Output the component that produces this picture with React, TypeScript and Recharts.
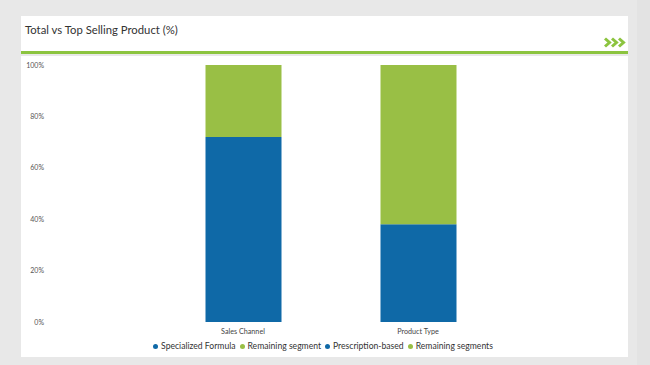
import React from 'react';
import { BarChart, Bar, XAxis, YAxis, Legend } from 'recharts';

const categories = ['Sales Channel', 'Product Type'];
const specializedFormula = [72, 0];
const remainingSegment = [28, 0];
const prescriptionBased = [0, 38];
const remainingSegments = [0, 62];
const yTicks = [0, 20, 40, 60, 80, 100];

const seriesNames = ['Specialized Formula', 'Remaining segment', 'Prescription-based', 'Remaining segments'];
const BLUE = '#0f69a7';
const GREEN = '#99bf45';
const seriesColors = [BLUE, GREEN, BLUE, GREEN];

const data = categories.map((c, i) => ({
  name: c,
  s0: specializedFormula[i],
  s1: remainingSegment[i],
  s2: prescriptionBased[i],
  s3: remainingSegments[i],
}));

const FONT = 'Lato, "Open Sans", sans-serif';

const YTick = (props: any) => {
  const { y, payload } = props;
  return (
    <text x={44} y={y} dy={2.5} textAnchor="end" fontSize={7} fill="#555" fontFamily={FONT}>
      {payload.value + '%'}
    </text>
  );
};

const LegendContent = () => {
  return (
    <div style={{ display: 'flex', justifyContent: 'center', alignItems: 'center', height: 12, fontFamily: FONT, fontSize: 8.6, color: '#333' }}>
      {seriesNames.map((n, i) => (
        <span key={n} style={{ display: 'inline-flex', alignItems: 'center', marginRight: 4 }}>
          <span style={{ width: 5, height: 5, borderRadius: '50%', background: seriesColors[i], display: 'inline-block', marginRight: 3 }} />
          {n}
        </span>
      ))}
    </div>
  );
};

export default function App() {
  return (
    <div style={{ position: 'absolute', left: 0, top: 0, width: 650, height: 365, background: '#e8e8e8', overflow: 'hidden' }}>
      <div style={{ position: 'absolute', left: 637, top: 0, width: 13, height: 365, background: '#e3e3e3' }} />
      <div style={{ position: 'absolute', left: 21, top: 16, width: 607, height: 35, background: '#fff' }} />
      <div style={{ position: 'absolute', left: 21, top: 51, width: 607, height: 2.5, background: '#8cc43f' }} />
      <div style={{ position: 'absolute', left: 21, top: 56, width: 607, height: 301, background: '#fff' }} />
      <div style={{ position: 'absolute', left: 25, top: 23, fontFamily: FONT, fontSize: 11.3, color: '#333', whiteSpace: 'nowrap' }}>
        Total vs Top Selling Product (%)
      </div>
      <svg style={{ position: 'absolute', left: 604, top: 37 }} width={24} height={11}>
        {[0, 7, 14].map((dx) => (
          <polyline
            key={dx}
            points={`${1 + dx},1.5 ${5.5 + dx},5.5 ${1 + dx},9.5`}
            fill="none"
            stroke="#8cc43f"
            strokeWidth={3}
          />
        ))}
      </svg>
      <div style={{ position: 'absolute', left: 0, top: 0 }}>
        <BarChart
          width={650}
          height={365}
          data={data}
          margin={{ top: 65, right: 144.5, bottom: 17, left: 21 }}
        >
          <XAxis
            dataKey="name"
            axisLine={false}
            tickLine={false}
            height={14}
            tickMargin={1}
            tick={{ fontSize: 7.2, fill: '#444', fontFamily: FONT }}
          />
          <YAxis
            width={134.5}
            domain={[0, 100]}
            ticks={yTicks}
            axisLine={false}
            tickLine={false}
            tick={<YTick />}
          />
          <Legend
            verticalAlign="bottom"
            content={<LegendContent />}
            wrapperStyle={{ left: 0, width: 650, bottom: 13 }}
          />
          {seriesNames.map((n, i) => (
            <Bar
              key={n}
              dataKey={'s' + i}
              name={n}
              stackId="a"
              fill={seriesColors[i]}
              barSize={76}
              isAnimationActive={false}
            />
          ))}
        </BarChart>
      </div>
    </div>
  );
}
